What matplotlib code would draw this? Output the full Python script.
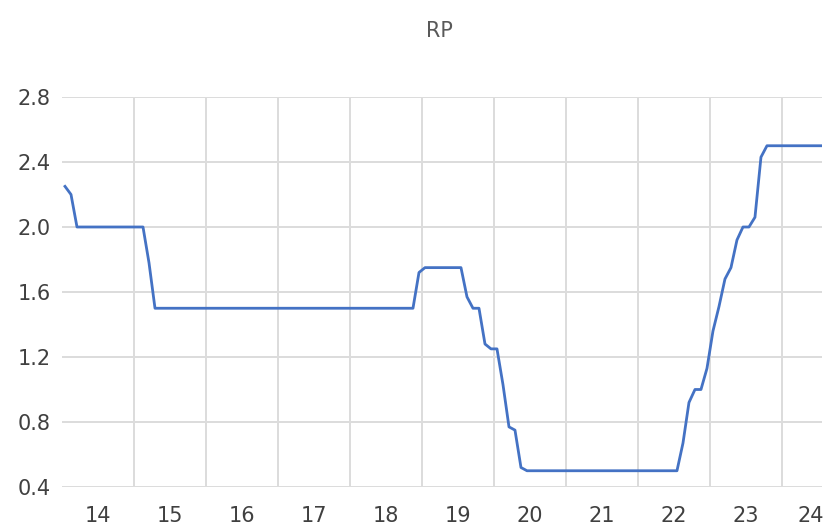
import matplotlib
matplotlib.use("Agg")
import matplotlib.pyplot as plt
import numpy as np

# Monthly RP values (Jan..Dec)
rp_2014 = [2.25, 2.20, 2.00, 2.00, 2.00, 2.00, 2.00, 2.00, 2.00, 2.00, 2.00, 2.00]
rp_2015 = [2.00, 2.00, 1.78, 1.50, 1.50, 1.50, 1.50, 1.50, 1.50, 1.50, 1.50, 1.50]
rp_2016 = [1.50, 1.50, 1.50, 1.50, 1.50, 1.50, 1.50, 1.50, 1.50, 1.50, 1.50, 1.50]
rp_2017 = [1.50, 1.50, 1.50, 1.50, 1.50, 1.50, 1.50, 1.50, 1.50, 1.50, 1.50, 1.50]
rp_2018 = [1.50, 1.50, 1.50, 1.50, 1.50, 1.50, 1.50, 1.50, 1.50, 1.50, 1.50, 1.72]
rp_2019 = [1.75, 1.75, 1.75, 1.75, 1.75, 1.75, 1.75, 1.57, 1.50, 1.50, 1.28, 1.25]
rp_2020 = [1.25, 1.03, 0.77, 0.75, 0.52, 0.50, 0.50, 0.50, 0.50, 0.50, 0.50, 0.50]
rp_2021 = [0.50, 0.50, 0.50, 0.50, 0.50, 0.50, 0.50, 0.50, 0.50, 0.50, 0.50, 0.50]
rp_2022 = [0.50, 0.50, 0.50, 0.50, 0.50, 0.50, 0.50, 0.67, 0.92, 1.00, 1.00, 1.13]
rp_2023 = [1.36, 1.51, 1.68, 1.75, 1.92, 2.00, 2.00, 2.06, 2.43, 2.50, 2.50, 2.50]
rp_2024 = [2.50, 2.50, 2.50, 2.50, 2.50, 2.50, 2.50]

start_year = 2014
year_labels = ["14", "15", "16", "17", "18", "19", "20", "21", "22", "23", "24"]
y_ticks = [0.4, 0.8, 1.2, 1.6, 2.0, 2.4, 2.8]
title = "RP"

values = (rp_2014 + rp_2015 + rp_2016 + rp_2017 + rp_2018 + rp_2019 +
          rp_2020 + rp_2021 + rp_2022 + rp_2023 + rp_2024)
months = np.arange(len(values))
x = start_year + (months + 0.5) / 12.0

fig = plt.figure(figsize=(8.28, 5.25), dpi=100)
ax = fig.add_axes([62 / 828, (525 - 487) / 525, (822 - 62) / 828, (487 - 97) / 525])

grid_color = "#DCDCDC"
for yv in y_ticks:
    ax.axhline(yv, color=grid_color, lw=1.4, zorder=1)
n_years = len(year_labels)
for k in range(1, n_years):
    ax.axvline(start_year + k, color=grid_color, lw=1.4, zorder=1)

ax.plot(x, values, color="#4472C4", lw=2.0, zorder=3)

x_max = start_year + 10.556
ax.set_xlim(start_year, x_max)
ax.set_ylim(0.4, 2.8)

ax.set_yticks(y_ticks)
ax.set_yticklabels([f"{v:.1f}" for v in y_ticks])
label_pos = [min(start_year + k + 0.5, x_max - 0.15) for k in range(n_years)]
ax.set_xticks(label_pos)
ax.set_xticklabels(year_labels)

for s in ax.spines.values():
    s.set_visible(False)
ax.tick_params(axis="both", length=0, labelsize=15, colors="#404040")
ax.tick_params(axis="y", pad=8)
ax.tick_params(axis="x", pad=14)

fig.text(439 / 828, 1 - 31 / 525, title, ha="center", va="center",
         fontsize=15, color="#595959")

fig.savefig("out.png", dpi=100)
